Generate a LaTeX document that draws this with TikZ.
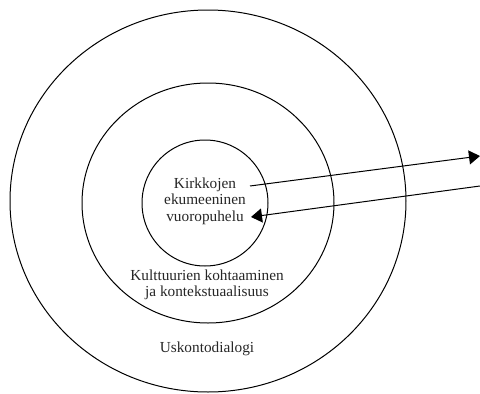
\documentclass[tikz,border=0pt]{standalone}
\usepackage{fontspec}
\setmainfont{Liberation Serif}
\usetikzlibrary{arrows.meta}
\begin{document}
\begin{tikzpicture}[line width=1pt, x=1pt, y=-1pt, >={Triangle[length=11pt,width=14pt]}, font=\fontsize{15.3}{16.5}\selectfont, text=black!85]
	\useasboundingbox (0,0) rectangle (480,394);
	% Kehät
	\draw (208,201) ellipse [x radius=198, y radius=191];
	\draw (208,203) ellipse [x radius=126, y radius=120];
	\draw (205,203) circle [radius=63];
	% Tekstit
	\node[align=center] (kirkot) at (205,201) {Kirkkojen\\ekumeeninen\\vuoropuhelu};
	\node[align=center] (kulttuurit) at (207,285) {Kulttuurien kohtaaminen\\ja kontekstuaalisuus};
	\node (uskonto) at (207,349) {Uskontodialogi};
	% Nuolten päät
	\coordinate (ulos) at (250,186);
	\coordinate (ulosb) at (480,156);
	\coordinate (sisaan) at (480,186);
	\coordinate (sisaanb) at (251,217);
	% Nuolet
	\draw [->] (ulos) -- (ulosb);
	\draw [->] (sisaan) -- (sisaanb);
\end{tikzpicture}
\end{document}
